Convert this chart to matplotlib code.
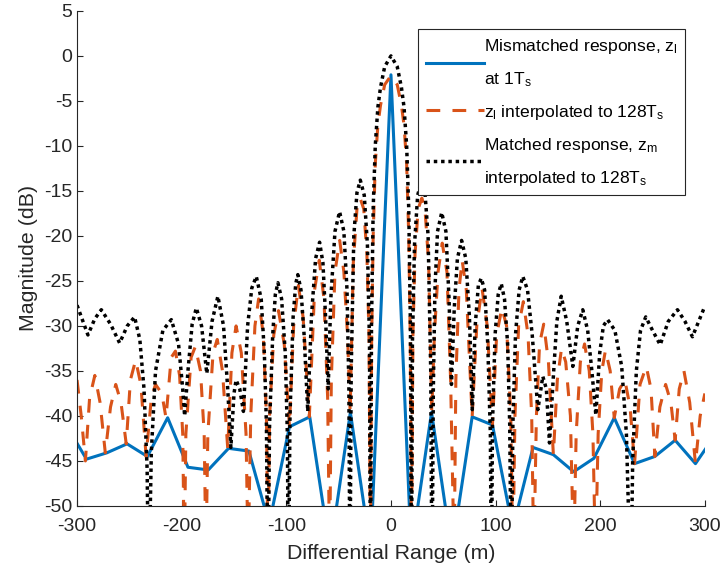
import numpy as np
import matplotlib.pyplot as plt

plt.rcParams['font.family'] = ['Liberation Sans', 'DejaVu Sans']
plt.rcParams['mathtext.default'] = 'regular'
plt.rcParams['axes.unicode_minus'] = False

blue_x = [-310.4, -291.0, -271.6, -252.2, -232.8, -213.4, -194.0, -174.6, -155.2, -135.8,
          -116.4, -97.0, -77.6, -58.2, -38.8, -19.4, 0.0, 19.4, 38.8, 58.2, 77.6, 97.0,
          116.4, 135.8, 155.2, 174.6, 194.0, 213.4, 232.8, 252.2, 271.6, 291.0, 310.4]
blue_db = [-41.0, -44.8, -44.1, -43.1, -44.5, -40.2, -45.7, -46.0, -43.6, -43.9,
           -52.0, -41.2, -40.1, -55.0, -39.6, -55.0, -2.1, -55.0, -39.6, -55.0, -40.1, -41.0,
           -52.5, -43.5, -44.3, -46.2, -44.7, -40.2, -45.3, -44.5, -42.7, -45.3, -42.0]

# z_l interpolated to 128Ts
orange_x = [-300, -296, -292, -288, -283, -278, -273, -268, -263, -258, -253, -249, -244, -239,
            -234, -229, -225, -219, -215, -210, -206, -202, -199, -197.5, -196, -191, -187, -182,
            -178.5, -176.8, -175, -170, -166, -161, -156, -152, -148, -143, -138.5, -136.5, -134,
            -130, -126.5, -122, -119, -117.5, -116, -112, -107.5, -102, -97, -93, -88.5, -84, -78,
            -73, -68.5, -64, -60.5, -58.6, -57, -53.5, -49, -45, -41.5, -39, -36, -32.5, -29.5,
            -26, -23, -21, -19.6, -18.5, -17, -15, -12.5, -10, -6, 0,
            6, 10, 12.5, 15, 17, 18.5, 19.6, 21, 23, 26, 29.5, 32.5, 36, 39, 41.5, 45, 49, 53.5,
            57, 60.4, 62, 65, 68, 72, 77.6, 82, 87, 92, 97, 101, 106, 110.5, 114.5, 116.5, 118.5,
            122, 126.5, 131, 134.5, 136.5, 139, 142, 146, 150.5, 155.2, 159, 163, 167, 171.5,
            174.6, 177, 181, 185, 189.5, 193, 195.5, 198, 201.5, 205, 209.5, 213.4, 218.5, 223.5,
            228.5, 232.8, 238, 244, 248.5, 252.2, 257, 262.5, 267.5, 271.6, 275.5, 280, 285.5,
            291, 295.5, 300]
orange_db = [-36.0, -40.0, -45.0, -38.0, -35.5, -38.5, -44.1, -39.0, -36.5, -38.5, -43.1, -36.0,
             -33.8, -36.5, -44.5, -38.0, -36.5, -37.5, -40.2, -33.5, -32.8, -35.5, -42.0, -56.0,
             -42.0, -33.5, -32.3, -35.0, -42.0, -56.0, -42.0, -33.0, -31.5, -35.0, -43.6, -33.0,
             -30.0, -33.0, -42.0, -56.0, -40.0, -30.0, -27.0, -31.0, -40.0, -56.0, -40.0, -31.0,
             -28.3, -32.0, -41.2, -30.0, -25.5, -29.0, -40.1, -26.0, -22.7, -27.0, -38.0, -56.0,
             -36.0, -24.0, -20.5, -24.0, -31.0, -39.6, -23.0, -17.0, -15.8, -17.0, -22.0, -31.0,
             -56.0, -32.0, -20.0, -12.0, -7.7, -5.5, -3.2, -2.2,
             -3.2, -5.5, -7.7, -12.0, -20.0, -32.0, -56.0, -31.0, -22.0, -17.0, -15.8, -17.0,
             -23.0, -39.6, -31.0, -24.0, -20.8, -24.0, -36.0, -56.0, -36.0, -26.0, -22.7, -26.0,
             -40.1, -30.0, -25.8, -30.0, -41.0, -31.0, -28.0, -30.0, -40.0, -56.0, -40.0, -30.0,
             -27.3, -31.0, -40.0, -56.0, -40.0, -32.0, -29.8, -34.0, -44.3, -36.0, -32.5, -34.0,
             -40.0, -56.0, -42.0, -34.0, -32.0, -35.0, -42.0, -56.0, -42.0, -35.0, -32.7, -35.0,
             -40.2, -37.0, -36.0, -39.0, -45.3, -36.5, -34.5, -37.0, -44.5, -39.0, -36.5, -38.5,
             -42.7, -37.0, -35.0, -38.5, -45.3, -40.0, -37.5]

# matched response z_m interpolated to 128Ts
black_x = [-300, -295, -289.6, -283, -276.8, -268, -259.3, -252, -245, -240, -236, -233, -231.6,
           -229, -225, -218, -209.9, -203, -199, -197.2, -194, -190, -186, -181, -176, -171,
           -165.4, -160, -156, -153, -150, -148, -144.5, -141, -137, -133, -128.7, -124, -121,
           -119, -117.6, -116, -113, -110.5, -108, -104.5, -101, -99, -98, -96.5, -93.5, -91, -89,
           -86, -83, -79.5, -76, -72, -68.2, -65, -62.5, -60, -57.5, -53.5, -49.1, -45, -42,
           -40.2, -39.2, -38, -35.5, -32.5, -29.3, -25.5, -22.5, -20.5, -19.6, -18.6, -17, -15,
           -12.5, -10, -6, 0,
           6, 10, 12.5, 15, 17, 18.6, 19.6, 20.5, 22.5, 25.5, 29.3, 32.5, 35.5, 38, 39.2, 40.5,
           42, 44.5, 48.5, 52.5, 55.5, 57.8, 60.5, 63.5, 67.5, 71.5, 75, 77.7, 80.5, 83.5, 86.3,
           89.5, 92.5, 95, 96, 97, 99.5, 102.5, 105.4, 108.5, 111.5, 113.5, 115, 116.5, 119,
           122.5, 126, 130.5, 135, 140.4, 145.1, 148.5, 151.5, 155, 158.5, 162.7, 168, 173.8,
           178.5, 183.3, 188, 192, 195.8, 199.5, 203, 207, 214, 220.5, 225, 229.2, 231, 234.5,
           238.5, 243.5, 250, 257.3, 265, 273.8, 281, 288.1, 294, 300]
black_db = [-27.7, -29.3, -31.0, -29.2, -28.2, -29.8, -31.9, -30.0, -29.0, -31.5, -37.0, -46.0,
            -60.0, -44.0, -35.0, -30.5, -29.3, -32.0, -37.0, -40.0, -35.0, -29.8, -28.0, -30.0,
            -35.3, -29.5, -26.7, -30.0, -37.0, -43.5, -37.5, -36.0, -37.0, -39.5, -30.0, -25.8,
            -24.5, -27.0, -33.0, -41.0, -60.0, -41.0, -31.0, -26.5, -25.2, -27.0, -33.0, -42.0,
            -60.0, -40.0, -29.0, -25.3, -24.3, -26.0, -31.0, -39.5, -29.0, -22.5, -20.7, -23.0,
            -29.0, -37.0, -27.0, -19.5, -17.3, -19.5, -26.0, -37.0, -60.0, -35.0, -20.0, -15.2,
            -13.8, -15.5, -21.0, -32.0, -60.0, -30.0, -17.0, -10.0, -5.7, -3.5, -1.2, 0.0,
            -1.2, -3.5, -5.7, -10.0, -17.0, -30.0, -60.0, -32.0, -21.0, -15.5, -13.8, -15.2,
            -20.0, -35.0, -60.0, -37.0, -26.0, -19.5, -17.4, -19.5, -27.0, -36.5, -28.0, -22.5,
            -20.5, -22.5, -29.0, -39.3, -30.0, -25.5, -24.7, -26.0, -32.0, -42.0, -60.0, -41.0,
            -31.0, -26.5, -25.3, -27.0, -32.0, -41.0, -60.0, -41.0, -31.0, -26.0, -24.5, -26.0,
            -31.0, -39.3, -35.6, -37.0, -43.0, -36.0, -29.5, -26.7, -29.5, -34.5, -30.0, -28.2,
            -30.5, -35.0, -39.9, -33.0, -30.0, -29.3, -30.5, -34.5, -42.0, -60.0, -45.0, -35.0,
            -30.5, -29.0, -30.5, -32.1, -29.5, -28.2, -29.5, -31.2, -29.5, -27.8]

labels = ['Mismatched response, z$_l$\nat 1T$_s$',
          'z$_l$ interpolated to 128T$_s$',
          'Matched response, z$_m$\ninterpolated to 128T$_s$']

fig = plt.figure(figsize=(7.2, 5.73), dpi=100)
ax = fig.add_axes([0.107, 0.117, 0.872, 0.864])

ax.plot(blue_x, blue_db, color='#0072BD', lw=2.2, label=labels[0])
ax.plot(orange_x, orange_db, color='#D95319', lw=2.2, ls=(0, (4.5, 4)), label=labels[1])
ax.plot(black_x, black_db, color='black', lw=2.5, ls=(0, (1, 1.1)), label=labels[2])

ax.set_xlim(-300, 300)
ax.set_ylim(-50, 5)
ax.set_xticks(np.arange(-300, 301, 100))
ax.set_yticks(np.arange(-50, 6, 5))
ax.spines['top'].set_visible(False)
ax.spines['right'].set_visible(False)
for s in ['left', 'bottom']:
    ax.spines[s].set_color('#262626')
    ax.spines[s].set_linewidth(0.8)
ax.tick_params(direction='in', length=4.5, width=0.8, colors='#262626', labelsize=14)
ax.tick_params(axis='x', pad=9)
ax.set_xlabel('Differential Range (m)', fontsize=15.4, color='#262626', labelpad=6)
ax.set_ylabel('Magnitude (dB)', fontsize=15.4, color='#262626')

leg = ax.legend(loc='upper left', bbox_to_anchor=(418 / 720, 1 - 29 / 573),
                bbox_transform=fig.transFigure, fontsize=12.6, frameon=True, fancybox=False,
                handlelength=3.3, handletextpad=0.0, borderpad=0.45, labelspacing=0.8,
                borderaxespad=0)
leg.get_frame().set_edgecolor('#262626')
leg.get_frame().set_linewidth(0.8)
leg.get_frame().set_alpha(1)
for t in leg.get_texts():
    t.set_linespacing(2.0)

fig.savefig('out.png', dpi=100)
